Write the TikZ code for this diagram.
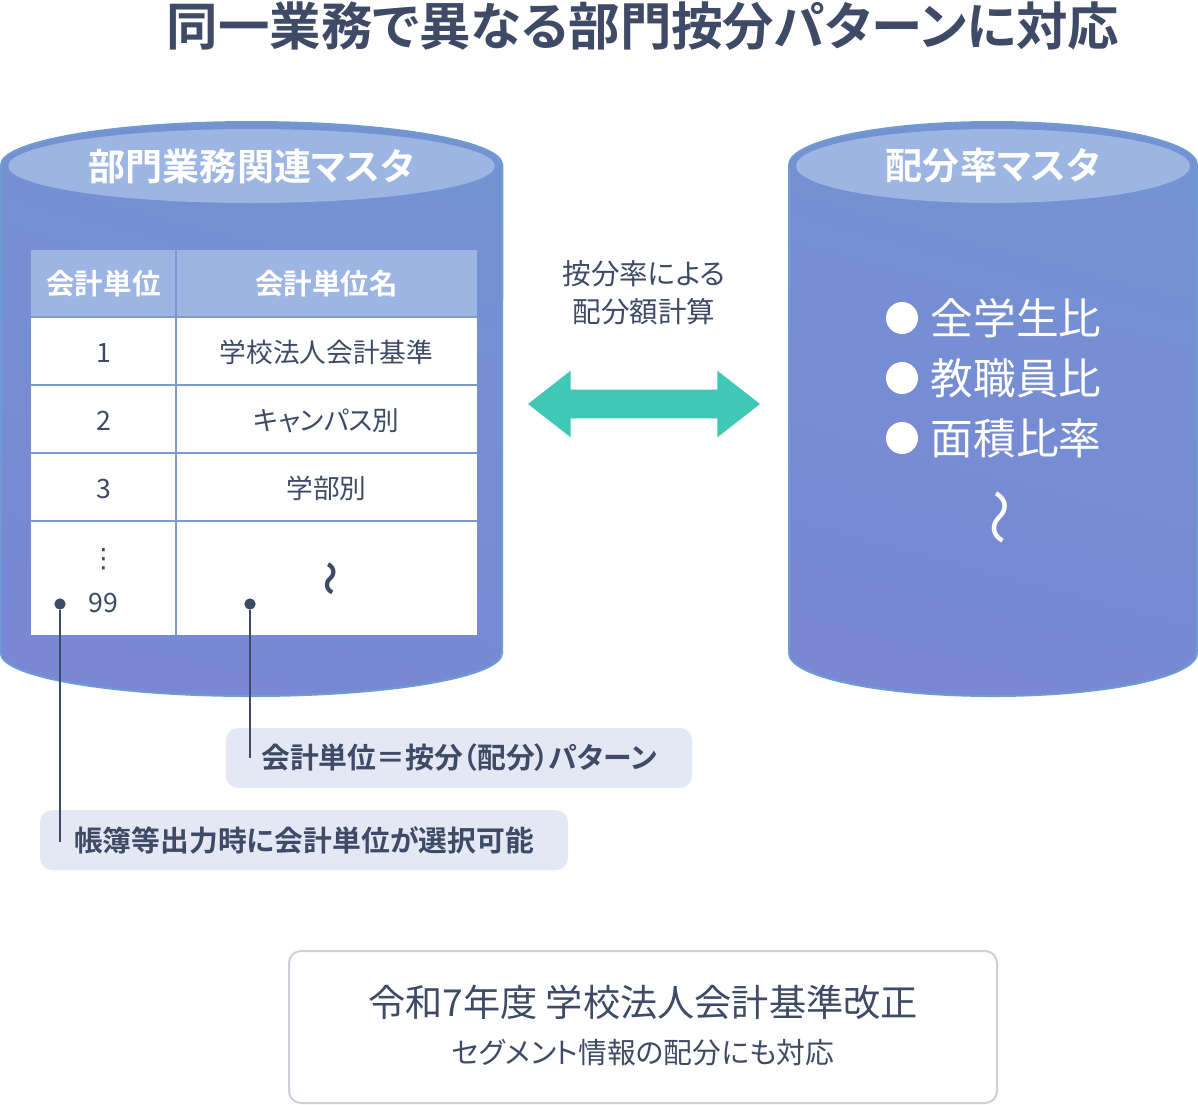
\documentclass[tikz,border=0pt]{standalone}
\usepackage{fontspec}
\setmainfont[RawFeature={+palt},BoldFont={Noto Sans CJK JP Bold}]{Noto Sans CJK JP}
\newfontfamily\symfont{DejaVu Sans}
\usetikzlibrary{positioning, shapes.geometric, shapes.arrows}
\definecolor{inkblue}{HTML}{3E4A66}
\definecolor{rimblue}{HTML}{6F9BD3}
\definecolor{lidblue}{HTML}{9DB5E2}
\definecolor{gridblue}{HTML}{7A9AD0}
\definecolor{bodytop}{HTML}{7493D2}
\definecolor{bodylow}{HTML}{7987D4}
\definecolor{paleblue}{HTML}{E3E8F4}
\definecolor{arrowteal}{HTML}{41C7B5}
\definecolor{boxgray}{HTML}{CDD0D6}
\newcommand{\fsz}[1]{\fontsize{#1}{#1}\selectfont}

\begin{document}
\begin{tikzpicture}[x=0.75pt,y=-0.75pt,
    every node/.style={outer sep=0pt,text=inkblue},
    masterbody/.style={draw=rimblue,line width=1.5pt,top color=bodytop,bottom color=bodylow,shading angle=-15},
    masterlid/.style={ellipse,fill=lidblue,text=white,minimum height=55.5pt,inner sep=0pt,font=\fsz{27.8}\bfseries},
    headcell/.style={rectangle,fill=lidblue,text=white,minimum height=50.25pt,inner sep=0pt,font=\fsz{21.4}\bfseries},
    bodycell/.style={rectangle,fill=white,minimum height=51pt,inner sep=0pt,text height=19pt,text depth=2.5pt,font=\fsz{20}},
    gridline/.style={draw=gridblue,line width=1.5pt},
    bullet/.style={circle,fill=white,minimum size=24pt,inner sep=0pt},
    ratetext/.style={text=white,font=\fsz{32},inner sep=0pt},
    callout/.style={rectangle,rounded corners=9pt,fill=paleblue,minimum height=45pt,inner sep=0pt,font=\fsz{21.6}\bfseries},
    pin/.style={circle,fill=inkblue,minimum size=8.5pt,inner sep=0pt},
    pinline/.style={draw=inkblue,line width=1.5pt}]
  \useasboundingbox (0,0) rectangle (1198,1104);

  % title
  \node[font=\fsz{38.6}\bfseries] (title) at (643,26) {同一業務で異なる部門按分パターンに対応};

  % left master
  \path[masterbody] (1,165) arc[start angle=180,end angle=0,x radius=188pt,y radius=32.25pt]
    -- (502,653) arc[start angle=0,end angle=-180,x radius=188pt,y radius=32.25pt] -- cycle;
  \node[masterlid,minimum width=365pt] (deptlid) at (251.5,166) {部門業務関連マスタ};

  % table
  \node[headcell,minimum width=108.75pt] (h1) at (103.5,283.5) {会計単位};
  \node[headcell,minimum width=225.75pt] (h2) [right=0pt of h1] {会計単位名};
  \node[bodycell,minimum width=108.75pt] (r1a) [below=0pt of h1] {1};
  \node[bodycell,minimum width=225.75pt] (r1b) [right=0pt of r1a] {学校法人会計基準};
  \node[bodycell,minimum width=108.75pt] (r2a) [below=0pt of r1a] {2};
  \node[bodycell,minimum width=225.75pt] (r2b) [right=0pt of r2a] {キャンパス別};
  \node[bodycell,minimum width=108.75pt] (r3a) [below=0pt of r2a] {3};
  \node[bodycell,minimum width=225.75pt] (r3b) [right=0pt of r3a] {学部別};
  \node[bodycell,minimum width=108.75pt,minimum height=85.5pt] (r4a) [below=0pt of r3a] {};
  \node[bodycell,minimum width=225.75pt,minimum height=85.5pt] (r4b) [right=0pt of r4a] {};
  \foreach \r in {r1,r2,r3,r4}
    \path[gridline] (\r a.north west) -- (\r b.north east);
  \path[gridline] (h1.north east) -- (r4a.south east);
  \node[font=\symfont\fsz{20}] (vdots) at (103.5,559) {⋮};
  \node[font=\fsz{20}] (last) at (103.5,603) {99};
  \node[rotate=-90,font=\fsz{26}\bfseries] (tablewave) at (327,579) {〜};

  % right master
  \path[masterbody] (789,165) arc[start angle=180,end angle=0,x radius=153pt,y radius=32.25pt]
    -- (1197,653) arc[start angle=0,end angle=-180,x radius=153pt,y radius=32.25pt] -- cycle;
  \node[masterlid,minimum width=295.5pt] (ratelid) at (993,166) {配分率マスタ};
  \node[bullet] (b1) at (902,318) {};
  \node[ratetext] (t1) at (1016,318) {全学生比};
  \node[bullet] (b2) at (902,378) {};
  \node[ratetext] (t2) at (1016,378) {教職員比};
  \node[bullet] (b3) at (902,438) {};
  \node[ratetext] (t3) at (1016,438) {面積比率};
  \node[rotate=-90,text=white,font=\fsz{42}] (ratewave) at (993,517) {〜};

  % between the masters
  \node[font=\fsz{21.4},align=center] (calc) at (644,293) {按分率による\\[7pt]配分額計算};
  \node[double arrow,fill=arrowteal,minimum height=174pt,minimum width=49.5pt,
    double arrow head extend=14.25pt,double arrow tip angle=76,inner sep=10.5pt] (swap) at (644,404) {};

  % callouts
  \node[callout,minimum width=349.5pt] (pattern) at (459,758) {会計単位＝按分（配分）パターン};
  \node[callout,minimum width=396pt] (ledger) at (304,840) {帳簿等出力時に会計単位が選択可能};
  \node[pin] (p1) at (60,604) {};
  \node[pin] (p2) at (250,604) {};
  \coordinate (e1) at (60,842);
  \coordinate (e2) at (250,758);
  \path[pinline] (p1) -- (e1);
  \path[pinline] (p2) -- (e2);

  % bottom note
  \node[rectangle,draw=boxgray,line width=1.5pt,rounded corners=9pt,fill=white,minimum width=531pt,minimum height=114pt] (reform) at (643,1027) {};
  \node[font=\fsz{27.9}] (reformA) at (643,1002) {令和7年度 学校法人会計基準改正};
  \node[font=\fsz{21.6}] (reformB) at (643,1053) {セグメント情報の配分にも対応};
\end{tikzpicture}
\end{document}
